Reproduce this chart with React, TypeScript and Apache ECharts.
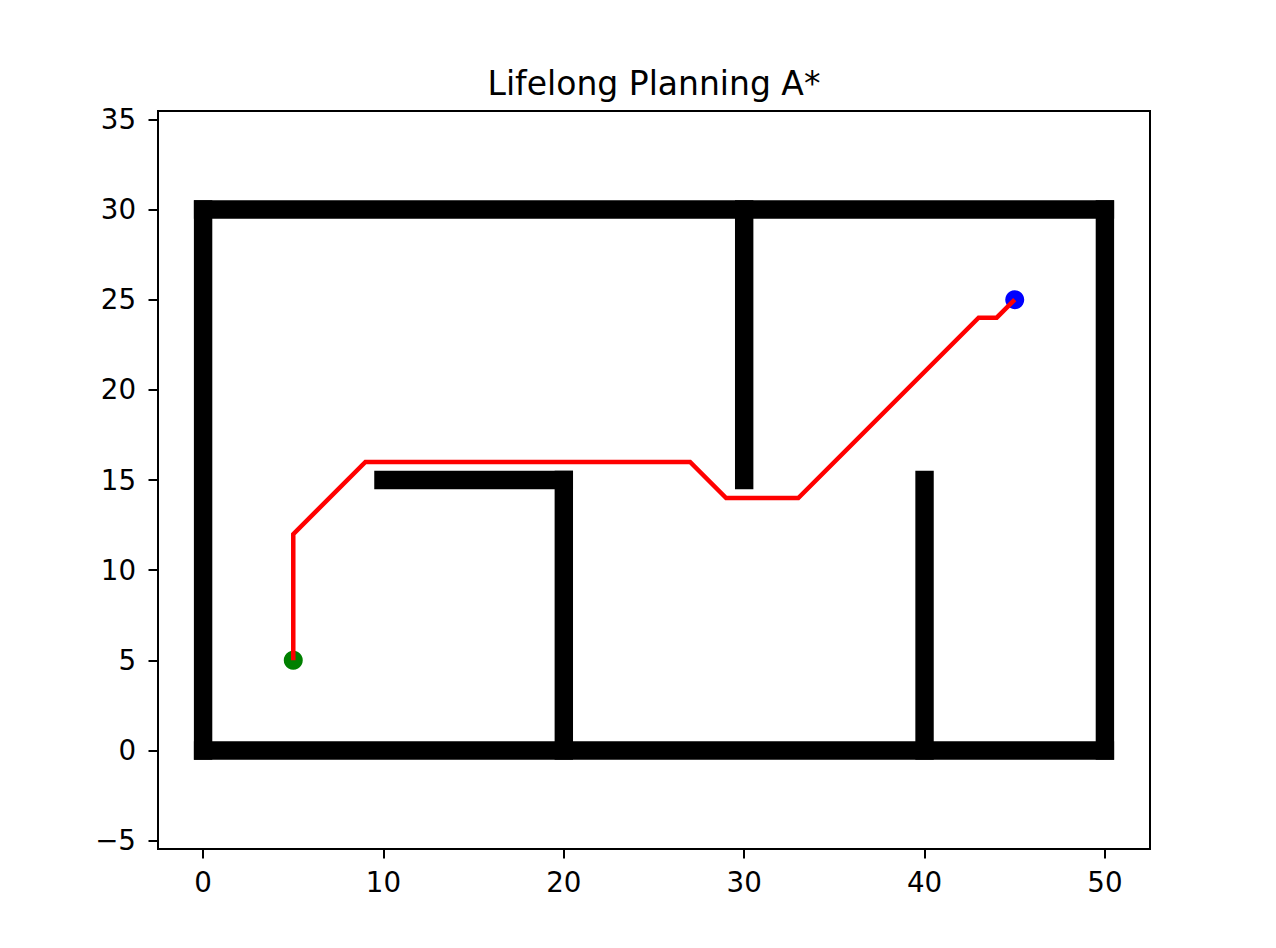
import { useEffect, useRef } from "react";
import * as echarts from "echarts";

const TITLE = "Lifelong Planning A*";
const FONT = "DejaVu Sans";

// 障碍墙段：[x1, y1, x2, y2]，每格一个方块，端点含在内
const WALLS: [number, number, number, number][] = [
  [0, 0, 50, 0],
  [0, 30, 50, 30],
  [0, 0, 0, 30],
  [50, 0, 50, 30],
  [10, 15, 20, 15],
  [20, 0, 20, 15],
  [30, 15, 30, 30],
  [40, 0, 40, 15],
];

// 规划出的路径（拐点）
const PATH_X = [5, 5, 9, 27, 29, 33, 43, 44, 45];
const PATH_Y = [5, 12, 16, 16, 14, 14, 24, 24, 25];

const START: [number, number] = [5, 5];
const GOAL: [number, number] = [45, 25];

const X_TICKS = [0, 10, 20, 30, 40, 50];
const Y_TICKS = [-5, 0, 5, 10, 15, 20, 25, 30, 35];

const CELL = 18.4; // 一格的像素宽度
const fmt = (v: number) => (v < 0 ? `\u2212${Math.abs(v)}` : `${v}`);

export default function App() {
  const elRef = useRef<HTMLDivElement>(null);

  useEffect(() => {
    const el = elRef.current;
    if (!el) return;
    const chart = echarts.init(el, undefined, { renderer: "svg" });

    const axisCommon = {
      type: "value" as const,
      splitLine: { show: false },
      axisLine: { show: false, onZero: false },
      axisTick: { show: true, length: 9.5, lineStyle: { color: "#000", width: 2 } },
      axisLabel: { color: "#000", fontFamily: FONT, fontSize: 27.7, formatter: fmt },
    };

    const wallSeries = WALLS.map((w) => ({
      type: "line",
      data: [
        [w[0], w[1]],
        [w[2], w[3]],
      ],
      showSymbol: false,
      silent: true,
      z: 1,
      lineStyle: { color: "#000", width: CELL, cap: "square" },
    }));

    chart.setOption({
      animation: false,
      backgroundColor: "#fff",
      grid: {
        left: 158,
        top: 111,
        right: 126,
        bottom: 99,
        show: true,
        borderColor: "#000",
        borderWidth: 2,
        backgroundColor: "#fff",
        containLabel: false,
      },
      graphic: [
        {
          type: "text",
          x: 654,
          y: 83.6,
          style: {
            text: TITLE,
            font: `33px "${FONT}"`,
            fill: "#000",
            align: "center",
            verticalAlign: "middle",
          },
        },
      ],
      xAxis: {
        ...axisCommon,
        min: -2.5,
        max: 52.5,
        axisTick: { ...axisCommon.axisTick, customValues: X_TICKS },
        axisLabel: { ...axisCommon.axisLabel, customValues: X_TICKS, margin: 19 },
      },
      yAxis: {
        ...axisCommon,
        min: -5.46,
        max: 35.46,
        axisTick: { ...axisCommon.axisTick, customValues: Y_TICKS },
        axisLabel: { ...axisCommon.axisLabel, customValues: Y_TICKS, margin: 22 },
      },
      series: [
        ...wallSeries,
        {
          type: "scatter",
          data: [START],
          symbol: "circle",
          symbolSize: 19,
          itemStyle: { color: "#008000", opacity: 1 },
          z: 2,
        },
        {
          type: "scatter",
          data: [GOAL],
          symbol: "circle",
          symbolSize: 19,
          itemStyle: { color: "#0000ff", opacity: 1 },
          z: 2,
        },
        {
          type: "line",
          data: PATH_X.map((x, i) => [x, PATH_Y[i]]),
          showSymbol: false,
          z: 3,
          lineStyle: { color: "#ff0000", width: 4.5, join: "miter" },
        },
      ],
    });

    return () => chart.dispose();
  }, []);

  return (
    <div
      ref={elRef}
      style={{ position: "fixed", left: 0, top: 0, width: 1276, height: 948 }}
    />
  );
}
